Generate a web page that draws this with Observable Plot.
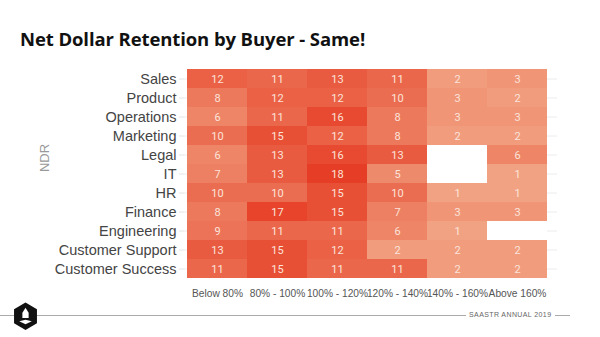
<!DOCTYPE html>
<html><head><meta charset="utf-8">
<script src="https://cdn.jsdelivr.net/npm/d3@7"></script>
<script src="https://cdn.jsdelivr.net/npm/@observablehq/plot@0.6"></script>
<style>
body{margin:0;background:#fff;width:600px;height:337px;overflow:hidden;position:relative;font-family:"Liberation Sans",Arial,sans-serif}
#title{position:absolute;left:20px;top:26px;font-family:"Open Sans",sans-serif;font-weight:700;font-size:18.5px;color:#111;letter-spacing:-0.1px;white-space:nowrap}
#chart{position:absolute;left:0;top:0}
#ndr{position:absolute;left:44px;top:158px;transform:translate(-50%,-50%) rotate(-90deg);font-size:13px;color:#999}
#line1{position:absolute;left:0;top:315px;width:466px;height:1px;background:#aaa}
#line2{position:absolute;left:555px;top:315px;width:15px;height:1px;background:#aaa}
#foot{position:absolute;left:469px;top:311px;font-size:7px;line-height:8px;letter-spacing:0.4px;color:#666;font-family:"Liberation Sans",sans-serif;white-space:nowrap}
#logo{position:absolute;left:13px;top:302px}
</style></head><body>
<div id="chart"></div>
<div id="title">Net Dollar Retention by Buyer - Same!</div>
<div id="ndr">NDR</div>
<div id="line1"></div><div id="line2"></div>
<div id="foot">SAASTR ANNUAL 2019</div>
<svg id="logo" width="25" height="29" viewBox="0 0 24 27"><polygon points="12,0 23,6.5 23,20 12,26.5 1,20 1,6.5" fill="#111"/><path d="M12 5 L15 10 L15 15 L9 15 L9 10 Z" fill="#fff"/><path d="M6 18 L12 16.5 L18 18 L12 21 Z" fill="#fff"/></svg>
<script>
const buyers = ["Sales","Product","Operations","Marketing","Legal","IT","HR","Finance","Engineering","Customer Support","Customer Success"];
const buckets = ["Below 80%","80% - 100%","100% - 120%","120% - 140%","140% - 160%","Above 160%"];
const sales = [12,11,13,11,2,3];
const product = [8,12,12,10,3,2];
const operations = [6,11,16,8,3,3];
const marketing = [10,15,12,8,2,2];
const legal = [6,13,16,13,null,6];
const it = [7,13,18,5,null,1];
const hr = [10,10,15,10,1,1];
const finance = [8,17,15,7,3,3];
const engineering = [9,11,11,6,1,null];
const customerSupport = [13,15,12,2,2,2];
const customerSuccess = [11,15,11,11,2,2];
const rows = [sales,product,operations,marketing,legal,it,hr,finance,engineering,customerSupport,customerSuccess];

const cells = [];
buyers.forEach((b,i)=>buckets.forEach((k,j)=>cells.push({buyer:b,bucket:k,value:rows[i][j]})));
const filled = cells.filter(d=>d.value!=null);
const empty = cells.filter(d=>d.value==null);

const chart = Plot.plot({
  width:600, height:337,
  marginTop:66, marginBottom:57, marginLeft:184, marginRight:51,
  x:{domain:buckets, padding:0, label:null},
  y:{domain:buyers, padding:0, label:null},
  color:{type:"linear", domain:[1,18], range:["#f1a282","#e63e26"]},
  style:{fontFamily:"Liberation Sans, Arial, sans-serif", background:"#fff"},
  marks:[
    Plot.ruleY(buyers,{y:d=>d, stroke:"#ececec", insetRight:-8, insetLeft:0}),
    Plot.cell(filled,{x:"bucket", y:"buyer", fill:"value"}),
    Plot.cell(empty,{x:"bucket", y:"buyer", fill:"#fff"}),
    Plot.text(filled,{x:"bucket", y:"buyer", text:"value", fill:"#fbe3da", fontSize:11, fontFamily:"Roboto, sans-serif"}),
    Plot.axisY({tickSize:5, tickPadding:3, fontSize:14.5, color:"#444", stroke:"#e4e4e4", label:null}),
    Plot.axisX({tickSize:0, tickPadding:9, fontSize:10.2, color:"#555", label:null})
  ]
});
document.getElementById("chart").appendChild(chart);
</script></body></html>
